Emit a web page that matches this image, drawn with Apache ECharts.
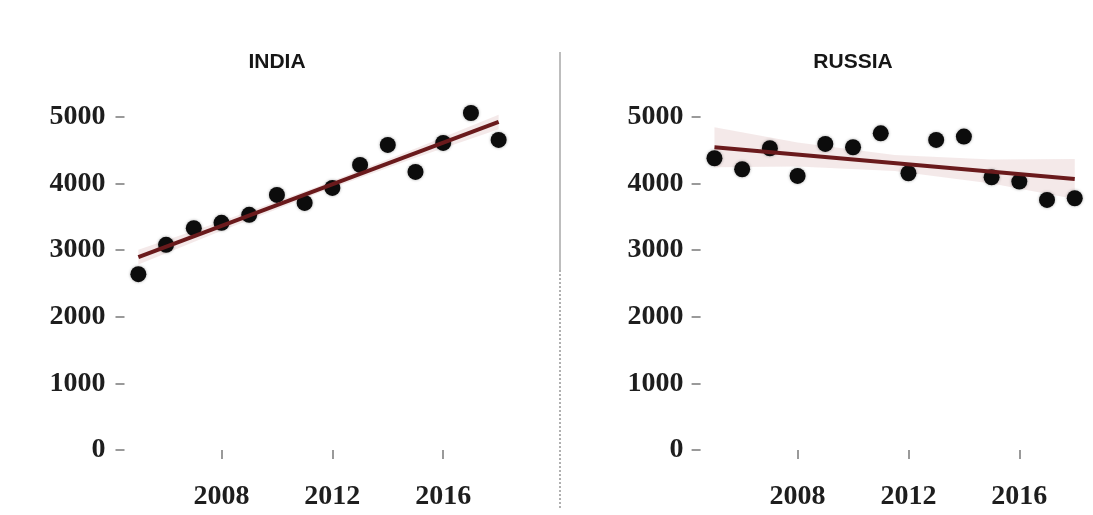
<!DOCTYPE html>
<html>
<head>
<meta charset="utf-8">
<script src="https://cdn.jsdelivr.net/npm/echarts@6/dist/echarts.min.js"></script>
<style>
  html, body { margin: 0; padding: 0; background: #ffffff; }
  #chart { width: 1093px; height: 515px; }
</style>
</head>
<body>
<div id="chart"></div>
<script>
// Yearly values per country
const years = [2005, 2006, 2007, 2008, 2009, 2010, 2011, 2012, 2013, 2014, 2015, 2016, 2017, 2018];
const indiaValues  = [2640, 3080, 3330, 3410, 3530, 3830, 3710, 3935, 4280, 4580, 4175, 4610, 5060, 4655];
const russiaValues = [4380, 4215, 4530, 4115, 4595, 4545, 4755, 4155, 4655, 4705, 4095, 4030, 3755, 3780];

// Linear trend endpoints
const trendYears  = [2005, 2018];
const indiaTrend  = [2895, 4925];
const russiaTrend = [4545, 4070];

// Confidence band around each trend
const bandYears      = [2005, 2008, 2011.5, 2015, 2018];
const indiaBandLow   = [2785, 3293, 3860, 4386, 4815];
const indiaBandHigh  = [3005, 3433, 3960, 4526, 5035];
const russiaBandLow  = [4245, 4255, 4188, 4000, 3770];
const russiaBandHigh = [4845, 4615, 4428, 4360, 4370];

// Tick labels
const yTicks = [0, 1000, 2000, 3000, 4000, 5000];
const xTicks = [2008, 2012, 2016];
const panelTitles = ['INDIA', 'RUSSIA'];

const chart = echarts.init(document.getElementById('chart'), null, { renderer: 'canvas' });

const labelFont = {
  fontFamily: 'Liberation Serif',
  fontWeight: 'bold',
  fontSize: 28,
  color: '#1e1e1e'
};
const plain = v => String(v);

function xAxisFor(gridIndex) {
  return {
    type: 'value', gridIndex, min: 2004.5, max: 2018.5,
    axisLine: { show: false },
    splitLine: { show: false },
    axisTick: { show: true, customValues: xTicks, length: 9, lineStyle: { color: '#9a9a9a', width: 2 } },
    axisLabel: Object.assign({ customValues: xTicks, margin: 16, formatter: plain }, labelFont)
  };
}
function yAxisFor(gridIndex, margin) {
  return {
    type: 'value', gridIndex, min: -250, max: 5300,
    axisLine: { show: false },
    splitLine: { show: false },
    axisTick: { show: true, customValues: yTicks, length: 9, lineStyle: { color: '#9a9a9a', width: 2 } },
    axisLabel: Object.assign({ customValues: yTicks, margin: margin, formatter: plain }, labelFont)
  };
}

function bandSeries(idx, low, high) {
  return {
    type: 'custom', xAxisIndex: idx, yAxisIndex: idx, z: 1, silent: true,
    data: [[bandYears[0], low[0]]],
    renderItem: function (params, api) {
      const pts = [];
      for (let i = 0; i < bandYears.length; i++) pts.push(api.coord([bandYears[i], high[i]]));
      for (let i = bandYears.length - 1; i >= 0; i--) pts.push(api.coord([bandYears[i], low[i]]));
      return { type: 'polygon', shape: { points: pts },
               style: { fill: 'rgba(214, 170, 170, 0.26)' } };
    }
  };
}
function pointSeries(idx, values) {
  return {
    type: 'scatter', xAxisIndex: idx, yAxisIndex: idx, z: 2,
    symbolSize: 16,
    itemStyle: { color: '#0c0c0c', opacity: 1, shadowBlur: 3, shadowColor: 'rgba(0,0,0,0.35)' },
    data: years.map((y, i) => [y, values[i]])
  };
}
function trendSeries(idx, values) {
  return {
    type: 'line', xAxisIndex: idx, yAxisIndex: idx, z: 3,
    showSymbol: false, symbol: 'none',
    lineStyle: { color: '#6a1a1c', width: 4 },
    data: trendYears.map((y, i) => [y, values[i]])
  };
}

const titleStyle = { fontFamily: 'Liberation Sans', fontWeight: 'bold', fontSize: 21, color: '#161616' };

chart.setOption({
  backgroundColor: '#ffffff',
  animation: false,
  title: [
    { text: panelTitles[0], left: 272, top: 47, textAlign: 'center', textStyle: titleStyle },
    { text: panelTitles[1], left: 848, top: 47, textAlign: 'center', textStyle: titleStyle }
  ],
  grid: [
    { left: 124.5, top: 97, width: 388, height: 369.6 },
    { left: 700.6, top: 97, width: 388, height: 369.6 }
  ],
  xAxis: [xAxisFor(0), xAxisFor(1)],
  yAxis: [yAxisFor(0, 19), yAxisFor(1, 17)],
  graphic: [
    { type: 'line', silent: true, shape: { x1: 560, y1: 52, x2: 560, y2: 270 },
      style: { stroke: '#bdbdbd', lineWidth: 2 } },
    { type: 'line', silent: true, shape: { x1: 560, y1: 270, x2: 560, y2: 508 },
      style: { stroke: '#b0b0b0', lineWidth: 2, lineDash: [2, 2] } }
  ],
  series: [
    bandSeries(0, indiaBandLow, indiaBandHigh),
    pointSeries(0, indiaValues),
    trendSeries(0, indiaTrend),
    bandSeries(1, russiaBandLow, russiaBandHigh),
    pointSeries(1, russiaValues),
    trendSeries(1, russiaTrend)
  ]
});
</script>
</body>
</html>
